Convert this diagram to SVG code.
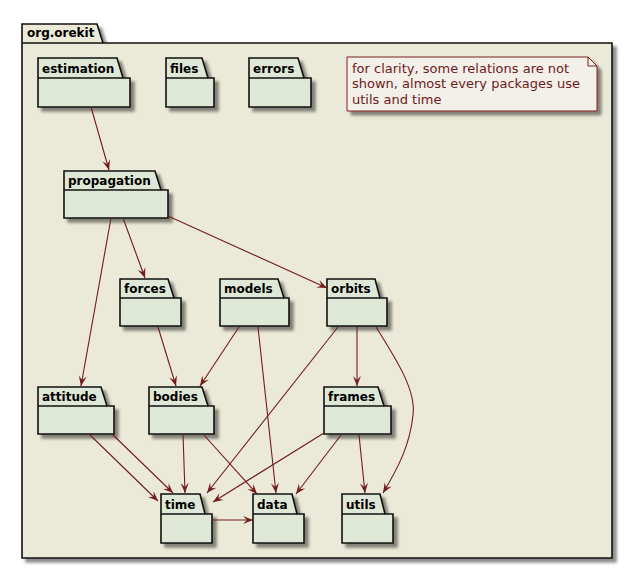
<svg xmlns="http://www.w3.org/2000/svg" width="633" height="570" viewBox="0 0 633 570">
<defs>
<filter id="sh" x="-20%" y="-20%" width="150%" height="150%">
<feGaussianBlur in="SourceAlpha" stdDeviation="1.8"/>
<feOffset dx="4" dy="4" result="b"/>
<feComponentTransfer><feFuncA type="linear" slope="0.45"/></feComponentTransfer>
<feMerge><feMergeNode/><feMergeNode in="SourceGraphic"/></feMerge>
</filter>
<marker id="ah" viewBox="-11 -5 12 10" refX="0" refY="0" markerWidth="12" markerHeight="10" markerUnits="userSpaceOnUse" orient="auto">
<path d="M0,0 L-10,-4 L-6,0 L-10,4 Z" fill="#731C1C"/>
</marker>
</defs>
<style>
.pk{fill:#DFE8D7;stroke:#111;stroke-width:1.6;stroke-linejoin:miter}
.ln{fill:none;stroke:#111;stroke-width:1.6}
.lb{font-family:"DejaVu Sans",sans-serif;font-weight:bold;font-size:12px;fill:#000}
.e{fill:none;stroke:#731C1C;stroke-width:1.1;marker-end:url(#ah)}
.nt{font-family:"DejaVu Sans",sans-serif;font-size:13px;fill:#6E1A1A}
</style>
<rect width="633" height="570" fill="#FFFFFF"/>
<g id="org.orekit">
<path d="M22,24 L97,24 L103,43 L612,43 L612,558 L22,558 Z" fill="#EBE9D7" stroke="#111" stroke-width="1.6" filter="url(#sh)"/>
<path class="ln" d="M22,43 L103,43"/>
<text class="lb" x="27" y="37">org.orekit</text>
</g>
<g id="note">
<path d="M347,57 L588,57 L597,66 L597,111 L347,111 Z" fill="#F3F0EA" stroke="#7A1E1E" stroke-width="1" filter="url(#sh)"/>
<path d="M588,57 L588,66 L597,66" fill="none" stroke="#7A1E1E" stroke-width="1"/>
<text class="nt" x="352" y="72.5">for clarity, some relations are not</text>
<text class="nt" x="352" y="88">shown, almost every packages use</text>
<text class="nt" x="352" y="103.5">utils and time</text>
</g>
<g id="estimation"><path class="pk" filter="url(#sh)" d="M38,58 L117,58 L123,78 L130,78 L130,107 L38,107 Z"/><path class="ln" d="M38,78 L123,78"/><text class="lb" x="42" y="72.5">estimation</text></g>
<g id="files"><path class="pk" filter="url(#sh)" d="M166,58 L202,58 L208,78 L214,78 L214,107 L166,107 Z"/><path class="ln" d="M166,78 L208,78"/><text class="lb" x="170" y="72.5">files</text></g>
<g id="errors"><path class="pk" filter="url(#sh)" d="M249,58 L298,58 L304,78 L311,78 L311,107 L249,107 Z"/><path class="ln" d="M249,78 L304,78"/><text class="lb" x="253" y="72.5">errors</text></g>
<g id="propagation"><path class="pk" filter="url(#sh)" d="M64,171 L155,171 L161,190 L168,190 L168,218 L64,218 Z"/><path class="ln" d="M64,190 L161,190"/><text class="lb" x="68" y="185">propagation</text></g>
<g id="forces"><path class="pk" filter="url(#sh)" d="M120,279 L168,279 L174,298 L181,298 L181,326 L120,326 Z"/><path class="ln" d="M120,298 L174,298"/><text class="lb" x="124" y="293">forces</text></g>
<g id="models"><path class="pk" filter="url(#sh)" d="M220,279 L278,279 L284,298 L289,298 L289,326 L220,326 Z"/><path class="ln" d="M220,298 L284,298"/><text class="lb" x="224" y="293">models</text></g>
<g id="orbits"><path class="pk" filter="url(#sh)" d="M327,279 L375,279 L380,298 L387,298 L387,326 L327,326 Z"/><path class="ln" d="M327,298 L380,298"/><text class="lb" x="331" y="293">orbits</text></g>
<g id="attitude"><path class="pk" filter="url(#sh)" d="M38,387 L101,387 L107,406 L114,406 L114,434 L38,434 Z"/><path class="ln" d="M38,406 L107,406"/><text class="lb" x="42" y="401">attitude</text></g>
<g id="bodies"><path class="pk" filter="url(#sh)" d="M149,387 L202,387 L208,406 L214,406 L214,434 L149,434 Z"/><path class="ln" d="M149,406 L208,406"/><text class="lb" x="153" y="401">bodies</text></g>
<g id="frames"><path class="pk" filter="url(#sh)" d="M324,387 L378,387 L384,406 L391,406 L391,434 L324,434 Z"/><path class="ln" d="M324,406 L384,406"/><text class="lb" x="328" y="401">frames</text></g>
<g id="time"><path class="pk" filter="url(#sh)" d="M161,494 L200,494 L205,514 L212,514 L212,543 L161,543 Z"/><path class="ln" d="M161,514 L205,514"/><text class="lb" x="165" y="508.5">time</text></g>
<g id="data"><path class="pk" filter="url(#sh)" d="M253,494 L292,494 L297,514 L304,514 L304,543 L253,543 Z"/><path class="ln" d="M253,514 L297,514"/><text class="lb" x="257" y="508.5">data</text></g>
<g id="utils"><path class="pk" filter="url(#sh)" d="M342,494 L380,494 L385,514 L393,514 L393,543 L342,543 Z"/><path class="ln" d="M342,514 L385,514"/><text class="lb" x="346" y="508.5">utils</text></g>
<g id="connectors">
<path class="e" d="M91,107 L109,170"/>
<path class="e" d="M123,218 L145,278"/>
<path class="e" d="M168,216 L327,288"/>
<path class="e" d="M111,218 L81,386"/>
<path class="e" d="M158,327 L176,386"/>
<path class="e" d="M239,327 L200,386"/>
<path class="e" d="M258,327 L276,493"/>
<path class="e" d="M338,327 L207,493"/>
<path class="e" d="M357,327 L357,386"/>
<path class="e" d="M376,327 C400,365 416,392 413,415 C410,445 398,468 383,493"/>
<path class="e" d="M89,434 L158,501"/>
<path class="e" d="M112,434 L173,493"/>
<path class="e" d="M183,434 L185,493"/>
<path class="e" d="M203,434 L257,494"/>
<path class="e" d="M324,433 L213,502"/>
<path class="e" d="M341,435 L296,494"/>
<path class="e" d="M359,435 L365,493"/>
<path class="e" d="M212,520 L253,520"/>
</g>
</svg>
